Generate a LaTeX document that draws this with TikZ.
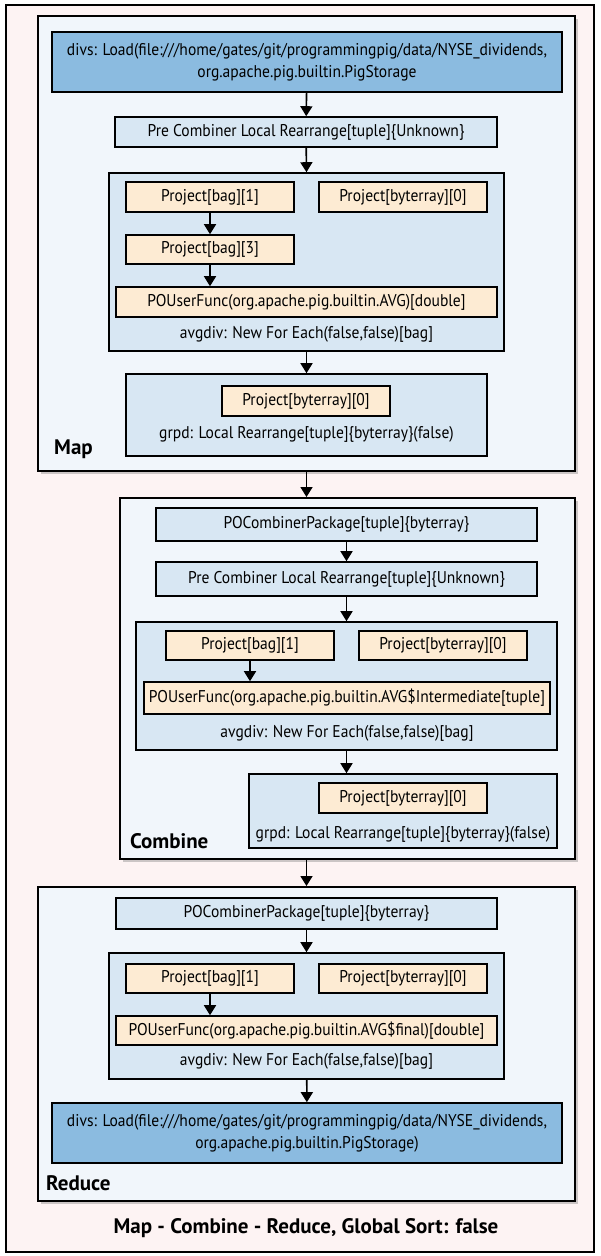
\documentclass[tikz,border=0pt]{standalone}
\usepackage{fontspec}
\setmainfont{PT Sans}[FakeStretch=0.915]
\newfontfamily\lblfont{PT Sans}
\usetikzlibrary{arrows.meta,shadows}
\definecolor{outerbg}{HTML}{FDF3F3}
\definecolor{phasebg}{HTML}{F1F6FB}
\definecolor{loadbg}{HTML}{8BBBE0}
\definecolor{opbg}{HTML}{D8E7F3}
\definecolor{projbg}{HTML}{FDEBD3}
\tikzset{
 base/.style={draw=black, line width=1.6pt, inner sep=0pt, rectangle, align=center, font=\fontsize{17}{22}\selectfont},
 phase/.style={base, fill=phasebg, line width=2pt, drop shadow={opacity=0.4, shadow xshift=2.5pt, shadow yshift=-2.5pt}},
 loadbox/.style={base, fill=loadbg},
 opbox/.style={base, fill=opbg},
 projbox/.style={base, fill=projbg},
 lbl/.style={font=\fontsize{17}{22}\selectfont, inner sep=0pt},
 phaselbl/.style={font=\lblfont\bfseries\fontsize{21}{24}\selectfont, anchor=west, inner sep=0pt},
 flow/.style={line width=1.6pt, -{Triangle[length=10pt,width=12pt]}},
}
\begin{document}
\begin{tikzpicture}[x=1pt,y=-1pt]
\useasboundingbox (0,0) rectangle (600,1256);
\node[draw=black, line width=1.3pt, fill=outerbg, minimum width=588pt, minimum height=1247pt, inner sep=0pt] (frame) at (300,628.5) {};

% ---------------- Map
\node[phase, minimum width=537pt, minimum height=455pt] (map) at (306.5,243.5) {};
\node[loadbox, minimum width=510pt, minimum height=60pt] (load1) at (307,62)
 {divs: Load(file:///home/gates/git/programmingpig/data/NYSE\_dividends,\\org.apache.pig.builtin.PigStorage};
\node[opbox, minimum width=382pt, minimum height=30pt] (pre1) at (306,132) {Pre Combiner Local Rearrange[tuple]\{Unknown\}};
\node[opbox, minimum width=395pt, minimum height=178pt] (fe1) at (306.5,262) {};
\node[projbox, minimum width=168pt, minimum height=30pt] (p1a) at (210,197) {Project[bag][1]};
\node[projbox, minimum width=168pt, minimum height=30pt] (p1b) at (403,197) {Project[byterray][0]};
\node[projbox, minimum width=168pt, minimum height=29pt] (p1c) at (210,249.5) {Project[bag][3]};
\node[projbox, minimum width=381pt, minimum height=30pt] (uf1) at (306.5,302) {POUserFunc(org.apache.pig.builtin.AVG)[double]};
\node[lbl] (av1) at (306.5,334) {avgdiv: New For Each(false,false)[bag]};
\node[opbox, minimum width=361pt, minimum height=82pt] (gr1) at (306.5,415) {};
\node[projbox, minimum width=168pt, minimum height=30pt] (gp1) at (306,401) {Project[byterray][0]};
\node[lbl] (gt1) at (306.5,434) {grpd: Local Rearrange[tuple]\{byterray\}(false)};
\node[phaselbl] (mapl) at (54,449) {Map};

\draw[flow] (load1) -- (pre1);
\draw[flow] (pre1) -- (fe1.north);
\draw[flow] (p1a) -- (p1c);
\draw[flow] (p1c) -- (p1c.south |- uf1.north);
\draw[flow] (fe1) -- (gr1.north);

% ---------------- Combine
\node[phase, minimum width=455pt, minimum height=361pt] (comb) at (347.5,678.5) {};
\node[opbox, minimum width=381pt, minimum height=33pt] (cp2) at (346.5,524.5) {POCombinerPackage[tuple]\{byterray\}};
\node[opbox, minimum width=381pt, minimum height=34pt] (pre2) at (346.5,579) {Pre Combiner Local Rearrange[tuple]\{Unknown\}};
\node[opbox, minimum width=421pt, minimum height=128pt] (fe2) at (346.5,686) {};
\node[projbox, minimum width=168pt, minimum height=29pt] (p2a) at (250,645.5) {Project[bag][1]};
\node[projbox, minimum width=168pt, minimum height=29pt] (p2b) at (443,645.5) {Project[byterray][0]};
\node[projbox, minimum width=406pt, minimum height=32pt] (uf2) at (347,698) {POUserFunc(org.apache.pig.builtin.AVG\$Intermediate[tuple]};
\node[lbl] (av2) at (347,733) {avgdiv: New For Each(false,false)[bag]};
\node[opbox, minimum width=308pt, minimum height=74pt] (gr2) at (403,811) {};
\node[projbox, minimum width=168pt, minimum height=30pt] (gp2) at (403,798) {Project[byterray][0]};
\node[lbl] (gt2) at (403,834) {grpd: Local Rearrange[tuple]\{byterray\}(false)};
\node[phaselbl] (combl) at (130,841) {Combine};

\draw[flow] (map.south) -- (map.south |- comb.north);
\draw[flow] (cp2) -- (pre2);
\draw[flow] (pre2) -- (fe2.north);
\draw[flow] (p2a) -- (p2a.south |- uf2.north);
\draw[flow] (fe2) -- (gr2.north -| fe2.south);

% ---------------- Reduce
\node[phase, minimum width=537pt, minimum height=314pt] (red) at (306.5,1044) {};
\node[opbox, minimum width=381pt, minimum height=31pt] (cp3) at (306.5,913.5) {POCombinerPackage[tuple]\{byterray\}};
\node[opbox, minimum width=395pt, minimum height=126pt] (fe3) at (306.5,1016) {};
\node[projbox, minimum width=168pt, minimum height=29pt] (p3a) at (210,978.5) {Project[bag][1]};
\node[projbox, minimum width=168pt, minimum height=29pt] (p3b) at (403,978.5) {Project[byterray][0]};
\node[projbox, minimum width=381pt, minimum height=29pt] (uf3) at (306.5,1030.5) {POUserFunc(org.apache.pig.builtin.AVG\$final)[double]};
\node[lbl] (av3) at (306.5,1061) {avgdiv: New For Each(false,false)[bag]};
\node[loadbox, minimum width=510pt, minimum height=60pt] (load3) at (307,1133)
 {divs: Load(file:///home/gates/git/programmingpig/data/NYSE\_dividends,\\org.apache.pig.builtin.PigStorage)};
\node[phaselbl] (redl) at (46,1183) {Reduce};

\draw[flow] (map.south |- comb.south) -- (map.south |- red.north);
\draw[flow] (cp3) -- (fe3.north);
\draw[flow] (p3a) -- (p3a.south |- uf3.north);
\draw[flow] (fe3) -- (load3);

\node[font=\lblfont\bfseries\fontsize{21}{24}\selectfont, inner sep=0pt] (foot) at (306,1228) {Map - Combine - Reduce, Global Sort: false};
\end{tikzpicture}
\end{document}
